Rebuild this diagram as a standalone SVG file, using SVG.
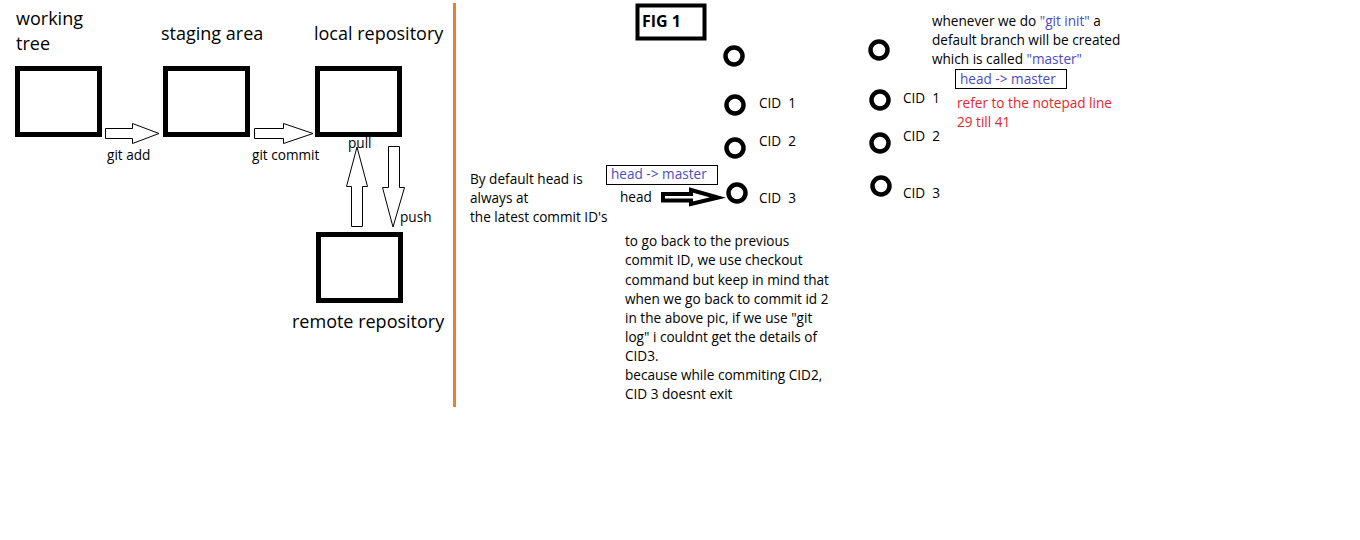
<svg xmlns="http://www.w3.org/2000/svg" width="1360" height="540" viewBox="0 0 1360 540">
<style>
text{font-family:"Open Sans","Noto Sans","Liberation Sans",sans-serif;fill:#000;white-space:pre}
.h{font-size:18px}
.s{font-size:13.6px}
.box{fill:#fff;stroke:#000;stroke-width:5}
.blk{fill:#fff;stroke:#000;stroke-width:1}
.fat{fill:#fff;stroke:#000;stroke-width:4;stroke-linejoin:miter}
.c{fill:none;stroke:#000;stroke-width:4.5}
.tag{fill:#fff;stroke:#000;stroke-width:1}
.blue{fill:#4d4dbf}
.red{fill:#e0282e}
</style>
<rect width="1360" height="540" fill="#fff"/>
<g id="working-tree">
<text class="h" x="16" y="25">working</text>
<text class="h" x="16" y="50">tree</text>
<rect class="box" x="17.5" y="68.5" width="82" height="66"/>
</g>
<g id="staging-area">
<text class="h" x="161" y="40">staging area</text>
<rect class="box" x="165.5" y="68.5" width="82" height="66"/>
</g>
<g id="local-repository">
<text class="h" x="314" y="40">local repository</text>
<rect class="box" x="317.5" y="68.5" width="82" height="66"/>
</g>
<g id="remote-repository">
<rect class="box" x="318.5" y="234.5" width="82" height="66"/>
<text class="h" x="292" y="328">remote repository</text>
</g>
<g id="connectors">
<polygon class="blk" points="105.5,128.5 132.5,128.5 132.5,123.5 159,133.5 132.5,143.5 132.5,138.5 105.5,138.5"/>
<polygon class="blk" points="254.5,128.5 283.5,128.5 283.5,123.5 313,133.5 283.5,143.5 283.5,138.5 254.5,138.5"/>
<polygon class="blk" points="351.5,226.5 351.5,186.5 346.5,186.5 357,147 367.5,186.5 362.5,186.5 362.5,226.5"/>
<polygon class="blk" points="388.5,146.5 399.5,146.5 399.5,187.5 404.5,187.5 393,227 382.5,187.5 388.5,187.5"/>
<polygon class="fat" points="663,194 691,194 691,190 718,197.5 691,204 691,200.5 663,200.5"/>
<text class="s" x="107" y="160">git add</text>
<text class="s" x="252" y="160">git commit</text>
<text class="s" x="348" y="148">pull</text>
<text class="s" x="400" y="222">push</text>
<text class="s" x="620" y="202">head</text>
</g>
<line x1="454.5" y1="3" x2="454.5" y2="407" stroke="#ed7d31" stroke-width="3"/>
<g id="fig1">
<rect x="637.5" y="5.5" width="67" height="33" fill="#fff" stroke="#000" stroke-width="4"/>
<text x="642" y="27" font-size="16" font-weight="bold">FIG 1</text>
</g>
<g id="head-note">
<text class="s" x="470" y="184">By default head is</text>
<text class="s" x="470" y="203">always at</text>
<text class="s" x="470" y="222">the latest commit ID's</text>
<rect class="tag" x="606.5" y="165.5" width="111" height="19"/>
<text class="s blue" x="611" y="179">head -&gt; master</text>
</g>
<g id="commits-1">
<circle class="c" cx="734" cy="56" r="8.5"/>
<circle class="c" cx="735" cy="105" r="8.5"/>
<circle class="c" cx="735" cy="148" r="8.5"/>
<circle class="c" cx="737" cy="193" r="8.5"/>
<text class="s" x="759" y="108">CID  1</text>
<text class="s" x="759" y="146">CID  2</text>
<text class="s" x="759" y="203">CID  3</text>
</g>
<g id="commits-2">
<circle class="c" cx="879" cy="50" r="8.5"/>
<circle class="c" cx="880" cy="100" r="8.5"/>
<circle class="c" cx="880" cy="143" r="8.5"/>
<circle class="c" cx="881" cy="186" r="8.5"/>
<text class="s" x="903" y="103">CID  1</text>
<text class="s" x="903" y="141">CID  2</text>
<text class="s" x="903" y="198">CID  3</text>
</g>
<g id="checkout-note">
<text class="s" x="625" y="246">to go back to the previous</text>
<text class="s" x="625" y="265">commit ID, we use checkout</text>
<text class="s" x="625" y="285">command but keep in mind that</text>
<text class="s" x="625" y="304">when we go back to commit id 2</text>
<text class="s" x="625" y="323">in the above pic, if we use "git</text>
<text class="s" x="625" y="342">log" i couldnt get the details of</text>
<text class="s" x="625" y="361">CID3.</text>
<text class="s" x="625" y="380">because while commiting CID2,</text>
<text class="s" x="625" y="399">CID 3 doesnt exit</text>
</g>
<g id="init-note">
<text class="s" x="932" y="26">whenever we do <tspan class="blue">"git init"</tspan> a</text>
<text class="s" x="932" y="45">default branch will be created</text>
<text class="s" x="932" y="64">which is called <tspan class="blue">"master"</tspan></text>
<rect class="tag" x="955.5" y="69.5" width="111" height="19"/>
<text class="s blue" x="960" y="84">head -&gt; master</text>
<text class="s red" x="957" y="108">refer to the notepad line</text>
<text class="s red" x="957" y="127">29 till 41</text>
</g>
</svg>
